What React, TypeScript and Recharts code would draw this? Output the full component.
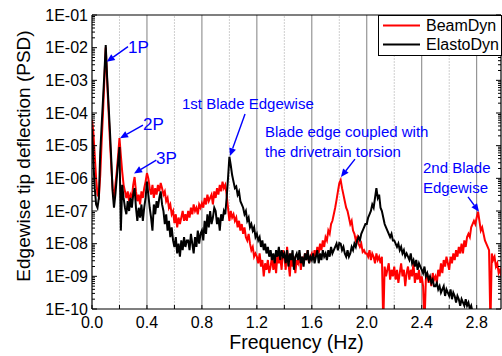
import React from 'react';
import { LineChart, Line, XAxis, YAxis, ReferenceLine, ReferenceDot, Legend } from 'recharts';

// Frequency grid of the sampled spectra (Hz)
const FREQ_STEP = 0.01;

// BeamDyn edgewise tip deflection PSD, log10 values (0.00 .. 2.98 Hz)
const beamDynLog10: (number | null)[] = [
  -4.2, -4.6, -5.3, -6.0, -6.5, -6.57, -5.9, -4.9, -4.0, -3.0,
  -2.0, -3.0, -3.9, -4.8, -5.6, -6.3, -6.66, -6.2, -5.8, -5.3,
  -4.77, -5.3, -5.8, -6.2, -6.4, -6.6, -6.4, -6.7, -6.5, -6.6,
  -6.2, -5.96, -6.4, -6.7, -6.5, -6.8, -6.4, -6.6, -6.3, -6.1,
  -5.84, -6.0, -6.3, -6.5, -6.2, -6.6, -6.3, -6.5, -6.2, -6.4,
  -6.14, -6.3, -6.5, -6.4, -6.7, -6.6, -6.9, -6.8, -7.1, -7.0,
  -7.37, -7.1, -7.5, -7.2, -7.4, -7.2, -7.0, -7.3, -7.1, -7.3,
  -7.0, -7.2, -6.9, -7.1, -6.8, -7.0, -6.9, -7.1, -6.8, -6.9,
  -6.76, -6.9, -6.6, -6.8, -6.5, -6.7, -6.6, -6.5, -6.8, -6.4,
  -6.6, -6.3, -6.5, -6.2, -6.4, -6.1, -6.3, -6.2, -6.5, -6.9,
  -7.3, -7.0, -7.2, -7.1, -7.3, -7.2, -7.5, -7.3, -7.6, -7.4,
  -7.7, -7.5, -7.8, -7.9, -7.7, -8.0, -8.2, -8.1, -8.4, -8.3,
  -8.4, -8.6, -8.3, -8.7, -8.5, -9.0, -8.6, -8.8, -8.5, -8.9,
  -8.7, -8.4, -8.8, -8.5, -8.9, -8.3, -8.6, -8.4, -8.8, -8.2,
  -8.4, -8.8, -8.1, -8.6, -9.0, -8.3, -8.7, -8.4, -8.9, -8.5,
  -8.6, -8.3, -8.8, -8.4, -8.6, -8.3, -8.5, -8.2, -8.6, -8.4,
  -8.3, -8.5, -8.2, -8.4, -8.1, -8.3, -8.0, -8.2, -7.9, -8.1,
  -7.8, -7.9, -7.6, -7.7, -7.4, -7.3, -7.1, -6.9, -6.66, -6.4,
  -6.15, -6.05, -6.3, -6.5, -6.7, -6.9, -7.0, -7.2, -7.4, -7.3,
  -7.6, -7.7, -7.9, -7.8, -8.0, -8.1, -8.0, -8.25, -8.2, -8.3,
  -8.3, -8.4, -8.2, -8.5, -8.3, -8.4, -8.6, -8.3, -8.5, -8.4,
  -8.6, -8.4, -10.5, -8.7, -9.0, -8.8, -8.6, -9.1, -8.8, -9.0,
  -8.7, -9.1, -8.8, -9.2, -8.9, -8.6, -9.0, -8.8, -9.3, -8.9,
  -8.7, -9.1, -8.8, -9.0, -8.6, -9.2, -8.9, -9.1, -8.8, -9.2,
  -9.0, -9.3, -10.5, -9.1, -8.9, -9.2, -9.0, -9.3, -8.9, -9.1,
  -9.0, -9.2, -8.8, -9.0, -8.6, -8.9, -8.5, -8.7, -8.4, -8.6,
  -8.8, -8.4, -8.6, -8.3, -8.5, -8.2, -8.4, -8.1, -8.3, -8.0,
  -8.3, -7.9, -8.1, -7.8, -7.7, -7.8, -7.5, -7.4, -7.3, -7.4,
  -7.2, -7.02, -7.3, -7.6, -7.5, -7.7, -7.9, -8.0, -8.1, -8.2,
  -10.5, -8.3, -8.5, -8.4, -8.7, -8.6, -8.9, -8.8, -9.0,
];

// ElastoDyn edgewise tip deflection PSD, log10 values (0.00 .. 2.98 Hz)
const elastoDynLog10: (number | null)[] = [
  -4.5, -5.5, -6.3, -6.8, -6.9, -6.6, -5.2, -4.4, -3.6, -2.8,
  -1.92, -2.9, -3.7, -4.5, -5.4, -6.4, -6.9, -6.5, -6.0, -5.5,
  -5.04, -7.6, -6.2, -6.6, -6.9, -7.1, -6.7, -7.0, -6.6, -6.9,
  -6.5, -6.3, -6.9, -7.3, -6.9, -7.2, -6.8, -7.3, -6.9, -6.6,
  -6.1, -6.5, -6.9, -7.2, -7.6, -6.8, -7.1, -6.7, -6.9, -6.6,
  -6.4, -6.8, -7.0, -7.4, -7.1, -7.6, -7.3, -7.8, -7.5, -7.9,
  -8.1, -7.8, -8.3, -8.0, -8.4, -7.9, -8.2, -7.8, -8.1, -7.9,
  -7.9, -8.2, -7.7, -8.0, -8.3, -7.8, -8.1, -7.6, -8.0, -7.7,
  -7.6, -7.9, -7.3, -7.7, -7.1, -7.5, -7.0, -7.4, -7.2, -6.9,
  -7.0, -7.4, -7.2, -7.6, -7.1, -7.3, -7.0, -7.1, -6.6, -6.0,
  -5.34, -5.6, -5.9, -6.1, -6.3, -6.25, -6.5, -6.4, -6.7, -6.8,
  -6.9, -7.1, -7.0, -7.3, -7.2, -7.5, -7.4, -7.6, -7.5, -7.8,
  -7.7, -7.9, -7.8, -8.1, -7.9, -8.2, -8.0, -8.3, -8.1, -8.4,
  -8.2, -8.5, -8.3, -8.6, -8.2, -8.4, -8.1, -8.5, -8.2, -8.4,
  -8.3, -8.6, -8.2, -8.7, -8.3, -8.5, -8.2, -8.8, -8.4, -8.3,
  -8.5, -8.2, -8.6, -8.4, -8.7, -8.3, -8.5, -8.2, -8.6, -8.4,
  -8.5, -8.3, -8.6, -8.4, -8.2, -8.6, -8.3, -8.5, -8.2, -8.4,
  -8.3, -8.5, -8.2, -8.4, -8.1, -8.3, -8.2, -8.1, -8.0, -8.2,
  -7.98, -8.0, -8.2, -8.1, -8.3, -8.4, -8.2, -8.4, -8.3, -8.1,
  -8.2, -8.0, -8.1, -7.9, -7.8, -7.9, -7.7, -7.6, -7.5, -7.4,
  -7.4, -7.2, -7.1, -7.0, -6.8, -6.9, -6.6, -6.3, -6.6, -6.5,
  -6.9, -7.0, -7.2, -7.4, -7.5, -7.6, -7.7, -7.8, -7.7, -7.9,
  -7.9, -8.0, -8.1, -8.0, -8.2, -8.1, -8.3, -8.2, -8.4, -8.3,
  -8.4, -8.5, -8.3, -8.6, -8.5, -8.7, -8.5, -8.8, -8.6, -8.7,
  -8.8, -8.9, -8.7, -9.0, -8.9, -9.1, -9.0, -9.2, -9.1, -9.3,
  -9.3, -9.2, -9.4, -9.3, -9.5, -9.4, -9.3, -9.6, -9.4, -9.5,
  -9.6, -9.4, -9.7, -9.5, -9.6, -9.8, -9.6, -9.7, -9.9, -9.7,
  -9.8, -9.9, -9.7, -9.9, -9.8, -10.0, -9.9, -10.1, -10.3, null,
  null, null, null, null, null, null, null, null, null, null,
  null, null, null, null, null, null, null, null, null,
];

const seriesNames = ['BeamDyn', 'ElastoDyn'];
const seriesColors = ['#ff0000', '#000000'];

const X_MAX = 2.977;
const xTickValues = [0, 0.2, 0.4, 0.6, 0.8, 1.0, 1.2, 1.4, 1.6, 1.8, 2.0, 2.2, 2.4, 2.6, 2.8];
const xLabelValues = [0, 0.4, 0.8, 1.2, 1.6, 2.0, 2.4, 2.8];
const gridMajor = [0.4, 0.8, 1.2, 1.6, 2.0, 2.4, 2.8];
const gridMinor = [0.2, 0.6, 1.0, 1.4, 1.8, 2.2, 2.6];
const decadeExponents = [-10, -9, -8, -7, -6, -5, -4, -3, -2, -1];
const minorMultipliers = [2, 3, 4, 5, 6, 7, 8, 9];

const Y_MIN = 1e-10;
const Y_MAX = 1e-1;

type Annotation = {
  lines: string[];
  size: number;
  textF: number;
  textLog: number;
  tailF: number;
  tailLog: number;
  headF: number;
  headLog: number;
};

const annotations: Annotation[] = [
  { lines: ['1P'], size: 17, textF: 0.262, textLog: -2.16, tailF: 0.262, tailLog: -1.97, headF: 0.107, headLog: -2.43 },
  { lines: ['2P'], size: 17, textF: 0.371, textLog: -4.52, tailF: 0.371, tailLog: -4.37, headF: 0.204, headLog: -4.77 },
  { lines: ['3P'], size: 17, textF: 0.466, textLog: -5.56, tailF: 0.468, tailLog: -5.44, headF: 0.306, headLog: -5.85 },
  { lines: ['1st Blade Edgewise'], size: 15, textF: 0.655, textLog: -3.88, tailF: 1.114, tailLog: -4.03, headF: 1.004, headLog: -5.32 },
  { lines: ['Blade edge coupled with', 'the drivetrain torsion'], size: 15, textF: 1.259, textLog: -4.73, tailF: 1.914, tailLog: -5.41, headF: 1.812, headLog: -5.96 },
  { lines: ['2nd Blade', 'Edgewise'], size: 15, textF: 2.409, textLog: -5.84, tailF: 2.737, tailLog: -6.57, headF: 2.817, headLog: -7.02 },
];

const FONT = '"Liberation Sans", Arial, Helvetica, sans-serif';
const BLUE = '#0000ff';

const data = beamDynLog10.map((b, i) => {
  const e = elastoDynLog10[i];
  return {
    f: Math.round(i * FREQ_STEP * 100) / 100,
    beam: b == null ? null : Math.pow(10, b),
    elasto: e == null ? null : Math.pow(10, e),
  };
});

const yTickValues: number[] = [];
decadeExponents.forEach((e) => {
  yTickValues.push(Math.pow(10, e));
  if (e < -1) minorMultipliers.forEach((m) => yTickValues.push(m * Math.pow(10, e)));
});

const isDecade = (v: number) => {
  const l = Math.log10(v);
  return Math.abs(l - Math.round(l)) < 1e-6;
};
const fmtDecade = (v: number) => {
  const e = Math.round(Math.log10(v));
  return `1E-${String(-e).padStart(2, '0')}`;
};

const LEFT_TICK_MARGIN = 4;
const LeftTick = (props: any) => {
  const { x, y, payload } = props;
  const v = payload.value as number;
  const axisX = x + LEFT_TICK_MARGIN;
  const major = isDecade(v);
  return (
    <g>
      <line x1={axisX} x2={axisX + (major ? 5 : 3)} y1={y} y2={y} stroke="#000" strokeWidth={1} />
      {major ? (
        <text x={x} y={y} textAnchor="end" dominantBaseline="central" fontSize={16} fill="#000" fontFamily={FONT}>
          {fmtDecade(v)}
        </text>
      ) : null}
    </g>
  );
};

const RightTick = (props: any) => {
  const { x, y, payload } = props;
  const v = payload.value as number;
  const major = isDecade(v);
  return <line x1={x} x2={x - (major ? 5 : 3)} y1={y} y2={y} stroke="#000" strokeWidth={1} />;
};

const X_TICK_MARGIN = 8;
const BottomTick = (props: any) => {
  const { x, y, payload } = props;
  const v = payload.value as number;
  const axisY = y - X_TICK_MARGIN;
  const labelled = xLabelValues.some((t) => Math.abs(t - v) < 1e-6);
  return (
    <g>
      <line x1={x} x2={x} y1={axisY} y2={axisY - 4} stroke="#000" strokeWidth={1} />
      {labelled ? (
        <text x={x} y={y} dy="0.71em" textAnchor="middle" fontSize={16} fill="#000" fontFamily={FONT}>
          {v.toFixed(1)}
        </text>
      ) : null}
    </g>
  );
};

const YTitle = (props: any) => {
  const vb = props.viewBox || {};
  const cx = (vb.x ?? 0) + 23;
  const cy = (vb.y ?? 0) + (vb.height ?? 0) / 2 - 6;
  return (
    <text x={cx} y={cy} transform={`rotate(-90, ${cx}, ${cy})`} textAnchor="middle" dominantBaseline="central" fontSize={19} fill="#000" fontFamily={FONT}>
      Edgewise tip deflection (PSD)
    </text>
  );
};

const XTitle = (props: any) => {
  const vb = props.viewBox || {};
  const cx = (vb.x ?? 0) + (vb.width ?? 0) / 2;
  const by = (vb.y ?? 0) + 40;
  return (
    <text x={cx} y={by} textAnchor="middle" fontSize={19.5} fill="#000" fontFamily={FONT}>
      Frequency (Hz)
    </text>
  );
};

const arrowShape = (props: any) => {
  const { x1, y1, x2, y2 } = props;
  const dx = x2 - x1;
  const dy = y2 - y1;
  const len = Math.hypot(dx, dy) || 1;
  const ux = dx / len;
  const uy = dy / len;
  const headLen = 8;
  const headW = 3.5;
  const bx = x2 - ux * headLen;
  const by = y2 - uy * headLen;
  const pts = `${x2},${y2} ${bx - uy * headW},${by + ux * headW} ${bx + uy * headW},${by - ux * headW}`;
  return (
    <g>
      <line x1={x1} y1={y1} x2={bx} y2={by} stroke={BLUE} strokeWidth={1.4} />
      <polygon points={pts} fill={BLUE} />
    </g>
  );
};

const makeTextShape = (lines: string[], size: number) => (props: any) => {
  const { cx, cy } = props;
  return (
    <text x={cx} y={cy} fill={BLUE} fontSize={size} fontFamily={FONT}>
      {lines.map((l, i) => (
        <tspan key={i} x={cx} dy={i === 0 ? 0 : 20}>
          {l}
        </tspan>
      ))}
    </text>
  );
};

const LegendBox = (props: any) => {
  const payload = props.payload || [];
  return (
    <div
      style={{
        boxSizing: 'border-box',
        width: 124,
        height: 41,
        border: '1px solid #000',
        background: '#fff',
        fontFamily: FONT,
        fontSize: 16,
        color: '#000',
        textAlign: 'left',
      }}
    >
      {payload.map((p: any, i: number) => (
        <div key={i} style={{ display: 'flex', alignItems: 'center', height: 19, lineHeight: '19px' }}>
          <svg width={42} height={19} style={{ display: 'block', flex: 'none' }}>
            <line x1={4} x2={41} y1={9.5} y2={9.5} stroke={p.color} strokeWidth={2} />
          </svg>
          <span style={{ marginLeft: 5, whiteSpace: 'nowrap' }}>{p.value}</span>
        </div>
      ))}
    </div>
  );
};

export default function App() {
  return (
    <div style={{ position: 'absolute', left: 0, top: 0, width: 502, height: 356, background: '#fff' }}>
      <LineChart
        width={502}
        height={356}
        data={data}
        margin={{ top: 14, right: 0, bottom: 0, left: 0 }}
        style={{ fontFamily: FONT }}
      >
        {gridMinor.map((v) => (
          <ReferenceLine key={`gm${v}`} x={v} stroke="#cfcfcf" strokeWidth={1} strokeDasharray="2 1" />
        ))}
        {gridMajor.map((v) => (
          <ReferenceLine key={`gM${v}`} x={v} stroke="#808080" strokeWidth={1} />
        ))}
        <XAxis
          dataKey="f"
          type="number"
          domain={[0, X_MAX]}
          allowDataOverflow
          ticks={xTickValues}
          interval={0}
          tickSize={0}
          tickMargin={X_TICK_MARGIN}
          tickLine={false}
          tick={<BottomTick />}
          axisLine={{ stroke: '#000', strokeWidth: 1.2 }}
          height={47}
          label={<XTitle />}
        />
        <XAxis
          xAxisId="top"
          orientation="top"
          type="number"
          domain={[0, X_MAX]}
          allowDataOverflow
          height={1}
          tick={false}
          tickLine={false}
          axisLine={{ stroke: '#000', strokeWidth: 1.2 }}
        />
        <YAxis
          scale="log"
          type="number"
          domain={[Y_MIN, Y_MAX]}
          allowDataOverflow
          ticks={yTickValues}
          interval={0}
          width={92}
          tickSize={0}
          tickMargin={LEFT_TICK_MARGIN}
          tickLine={false}
          tick={<LeftTick />}
          axisLine={{ stroke: '#000', strokeWidth: 1.2 }}
          label={<YTitle />}
        />
        <YAxis
          yAxisId="right"
          orientation="right"
          scale="log"
          type="number"
          domain={[Y_MIN, Y_MAX]}
          allowDataOverflow
          ticks={yTickValues}
          interval={0}
          width={1}
          tickSize={0}
          tickMargin={0}
          tickLine={false}
          tick={<RightTick />}
          axisLine={{ stroke: '#000', strokeWidth: 1.2 }}
        />
        <Line
          dataKey="beam"
          name={seriesNames[0]}
          stroke={seriesColors[0]}
          strokeWidth={2}
          dot={false}
          activeDot={false}
          isAnimationActive={false}
        />
        <Line
          dataKey="elasto"
          name={seriesNames[1]}
          stroke={seriesColors[1]}
          strokeWidth={2}
          dot={false}
          activeDot={false}
          isAnimationActive={false}
        />
        {annotations.map((a, i) => (
          <ReferenceLine
            key={`arr${i}`}
            segment={[
              { x: a.tailF, y: Math.pow(10, a.tailLog) },
              { x: a.headF, y: Math.pow(10, a.headLog) },
            ]}
            shape={arrowShape}
            ifOverflow="visible"
          />
        ))}
        {annotations.map((a, i) => (
          <ReferenceDot
            key={`txt${i}`}
            x={a.textF}
            y={Math.pow(10, a.textLog)}
            r={1}
            shape={makeTextShape(a.lines, a.size)}
            ifOverflow="visible"
          />
        ))}
        <Legend
          layout="horizontal"
          verticalAlign="middle"
          align="center"
          wrapperStyle={{ top: 15, left: 378, width: 124, height: 41 }}
          content={<LegendBox />}
        />
      </LineChart>
    </div>
  );
}
